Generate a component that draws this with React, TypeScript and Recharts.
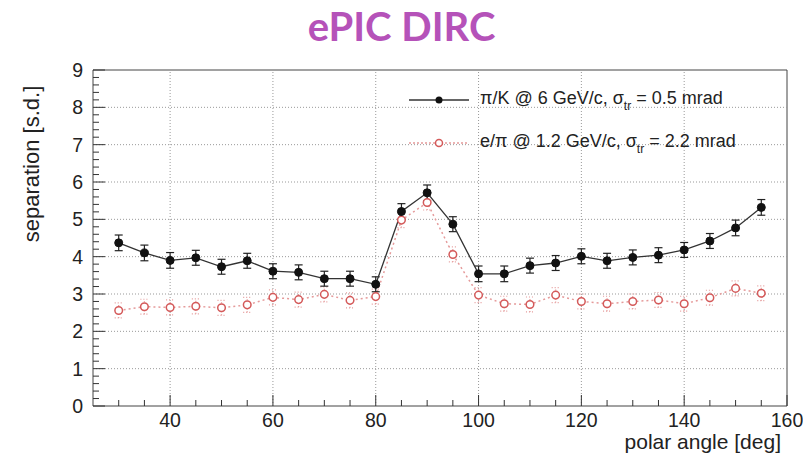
import {
  ComposedChart,
  ErrorBar,
  Legend,
  Line,
  ReferenceArea,
  ReferenceLine,
  XAxis,
  YAxis,
} from "recharts";

const ANGLES = [30, 35, 40, 45, 50, 55, 60, 65, 70, 75, 80, 85, 90, 95, 100, 105, 110, 115, 120, 125, 130, 135, 140, 145, 150, 155];
const PI_K = [4.37, 4.1, 3.9, 3.97, 3.73, 3.89, 3.61, 3.58, 3.41, 3.41, 3.26, 5.21, 5.71, 4.87, 3.54, 3.54, 3.76, 3.83, 4.01, 3.89, 3.98, 4.04, 4.18, 4.42, 4.77, 5.32];
const PI_K_ERR = [0.21, 0.21, 0.21, 0.2, 0.2, 0.2, 0.2, 0.2, 0.2, 0.2, 0.2, 0.21, 0.21, 0.2, 0.21, 0.21, 0.2, 0.2, 0.2, 0.2, 0.2, 0.2, 0.2, 0.2, 0.21, 0.21];
const E_PI = [2.56, 2.66, 2.64, 2.67, 2.63, 2.71, 2.91, 2.85, 2.99, 2.83, 2.93, 4.98, 5.45, 4.06, 2.97, 2.74, 2.72, 2.97, 2.8, 2.74, 2.8, 2.84, 2.74, 2.9, 3.15, 3.02];
const E_PI_ERR = [0.2, 0.2, 0.2, 0.2, 0.2, 0.2, 0.2, 0.2, 0.2, 0.2, 0.2, 0.2, 0.2, 0.2, 0.2, 0.2, 0.2, 0.2, 0.2, 0.2, 0.2, 0.2, 0.2, 0.2, 0.2, 0.2];

const X_TICKS = [30, 35, 40, 45, 50, 55, 60, 65, 70, 75, 80, 85, 90, 95, 100, 105, 110, 115, 120, 125, 130, 135, 140, 145, 150, 155, 160];
const X_GRID = [40, 60, 80, 100, 120, 140];
const Y_GRID = [1, 2, 3, 4, 5, 6, 7, 8];
// minor ticks every 0.2 s.d. (ROOT style)
const Y_TICKS = Array.from({ length: 46 }, (_, i) => Math.round(i * 2) / 10);

const FONT = '"Liberation Sans", Arial, Helvetica, sans-serif';
const INK = "#222";
const BLACK = "#111";
const RED = "#d45a5a";
const RED_LINE = "#e59a9a";

const XTick = (props: any) => {
  const { x, y, payload } = props;
  const v = payload.value;
  const major = v % 20 === 0;
  return (
    <g>
      <line x1={x} x2={x} y1={y} y2={y - (major ? 11 : 6)} stroke="#333" />
      {major && (
        <text x={x} y={y + 21} textAnchor="middle" fontSize={19.5} fontFamily={FONT} fill={INK}>
          {v}
        </text>
      )}
    </g>
  );
};

const YTick = (props: any) => {
  const { x, y, payload } = props;
  const v = payload.value;
  const major = Math.abs(v - Math.round(v)) < 1e-6;
  return (
    <g>
      <line x1={x} x2={x + (major ? 12 : 6)} y1={y} y2={y} stroke="#333" />
      {major && (
        <text x={x - 10} y={y + 7} textAnchor="end" fontSize={19.5} fontFamily={FONT} fill={INK}>
          {Math.round(v)}
        </text>
      )}
    </g>
  );
};

const Sigma = ({ rest }: { rest: string }) => (
  <>
    σ<span style={{ fontSize: 12, position: "relative", top: 6 }}>tr</span>
    {rest}
  </>
);

const renderLegend = () => (
  <div style={{ position: "relative", width: 380, height: 80, fontFamily: FONT, fontSize: 18, lineHeight: "20px", color: INK }}>
    <svg width={70} height={20} style={{ position: "absolute", left: 5, top: 4 }}>
      <line x1={3} x2={63} y1={10} y2={10} stroke="#333" strokeWidth={1.3} />
      <circle cx={33} cy={10} r={3.5} fill={BLACK} />
    </svg>
    <div style={{ position: "absolute", left: 79, top: 2, whiteSpace: "nowrap" }}>
      π/K @ 6 GeV/c, <Sigma rest=" = 0.5 mrad" />
    </div>
    <svg width={70} height={20} style={{ position: "absolute", left: 5, top: 47 }}>
      <line x1={3} x2={63} y1={10} y2={10} stroke={RED_LINE} strokeWidth={1.3} strokeDasharray="2 2" />
      <circle cx={33} cy={10} r={3.5} fill="#fff" stroke={RED} strokeWidth={1.5} />
    </svg>
    <div style={{ position: "absolute", left: 79, top: 45, whiteSpace: "nowrap" }}>
      e/π @ 1.2 GeV/c, <Sigma rest=" = 2.2 mrad" />
    </div>
  </div>
);

export default function App() {
  const data = ANGLES.map((a, i) => ({
    angle: a,
    piK: PI_K[i],
    piKErr: PI_K_ERR[i],
    ePi: E_PI[i],
    ePiErr: E_PI_ERR[i],
  }));

  return (
    <div style={{ position: "absolute", left: 0, top: 0, width: 803, height: 454, background: "#fff" }}>
      <ComposedChart width={803} height={454} data={data} margin={{ top: 70, right: 16, bottom: 0, left: 0 }}>
        <XAxis
          dataKey="angle"
          type="number"
          domain={[25, 160]}
          ticks={X_TICKS}
          interval={0}
          tickSize={0}
          tickMargin={0}
          axisLine={false}
          tick={<XTick />}
          height={48}
          label={{
            content: (p: any) => (
              <text
                x={p.viewBox.x + p.viewBox.width - 6}
                y={p.viewBox.y + 43}
                textAnchor="end"
                fontSize={21}
                fontFamily={FONT}
                fill={INK}
              >
                polar angle [deg]
              </text>
            ),
          }}
        />
        <YAxis
          type="number"
          domain={[0, 9]}
          ticks={Y_TICKS}
          interval={0}
          tickSize={0}
          tickMargin={0}
          axisLine={false}
          tick={<YTick />}
          width={93}
          label={{
            content: (p: any) => {
              const cx = p.viewBox.x + 31;
              const cy = p.viewBox.y + 94;
              return (
                <text
                  x={cx}
                  y={cy}
                  transform={`rotate(-90 ${cx} ${cy})`}
                  textAnchor="middle"
                  dominantBaseline="central"
                  fontSize={22}
                  fontFamily={FONT}
                  fill={INK}
                >
                  separation [s.d.]
                </text>
              );
            },
          }}
        />
        {X_GRID.map((v) => (
          <ReferenceLine key={"x" + v} x={v} stroke="#999" strokeDasharray="1 2" />
        ))}
        {Y_GRID.map((v) => (
          <ReferenceLine key={"y" + v} y={v} stroke="#999" strokeDasharray="1 2" />
        ))}
        <ReferenceArea x1={25} x2={160} y1={0} y2={9} fill="none" stroke="#444" strokeWidth={1} />
        <Line
          dataKey="ePi"
          stroke={RED_LINE}
          strokeWidth={1.5}
          strokeDasharray="2 3"
          dot={{ r: 3.8, fill: "#fff", stroke: RED, strokeWidth: 1.5, strokeDasharray: "none" }}
          isAnimationActive={false}
        >
          <ErrorBar dataKey="ePiErr" width={4} stroke={RED_LINE} strokeWidth={1.2} strokeDasharray="1 2" />
        </Line>
        <Line
          dataKey="piK"
          stroke="#333"
          strokeWidth={1.3}
          dot={{ r: 4, fill: BLACK, stroke: BLACK, strokeWidth: 1 }}
          isAnimationActive={false}
        >
          <ErrorBar dataKey="piKErr" width={4} stroke="#222" strokeWidth={1.2} />
        </Line>
        <Legend
          layout="vertical"
          align="center"
          verticalAlign="middle"
          content={renderLegend}
          wrapperStyle={{ position: "absolute", left: 401, top: 86, width: 380 }}
        />
      </ComposedChart>
      <div
        style={{
          position: "absolute",
          left: 0,
          top: 6,
          width: 803,
          textAlign: "center",
          fontFamily: "Lato, 'Open Sans', sans-serif",
          fontWeight: 700,
          fontSize: 40,
          lineHeight: "40px",
          color: "#b552b9",
        }}
      >
        ePIC DIRC
      </div>
    </div>
  );
}
